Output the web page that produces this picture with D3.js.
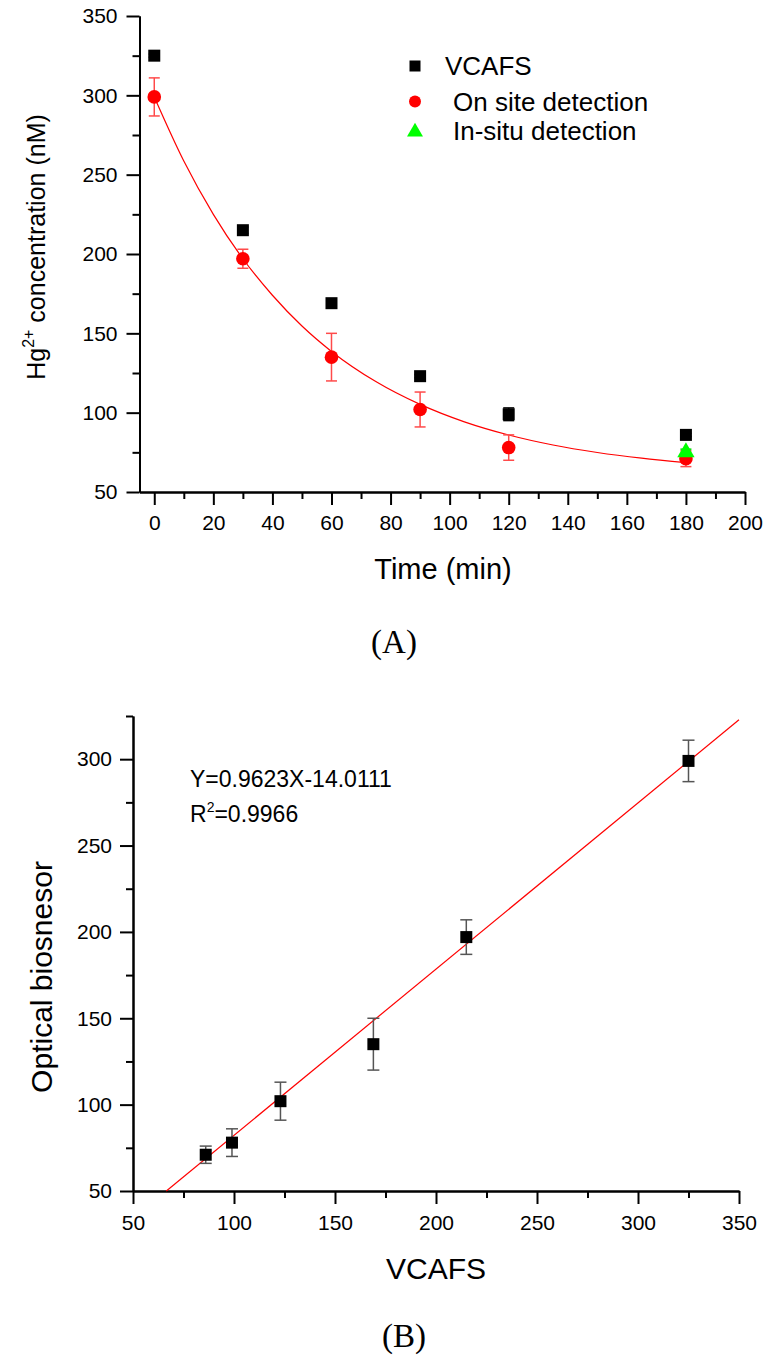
<!DOCTYPE html>
<html>
<head>
<meta charset="utf-8">
<script src="https://cdn.jsdelivr.net/npm/d3@7"></script>
<style>
  body { margin: 0; background: #fff; }
  svg { font-family: "Liberation Sans", Arial, sans-serif; }
  .axis path, .axis line { stroke: #000; stroke-width: 2; }
  .axis text { font-family: "Liberation Sans", Arial, sans-serif; font-size: 21px; fill: #000; }
</style>
</head>
<body>
<div id="chart"></div>
<script>
// ---- data: panel A (time course) ----
var timeMin = [0, 30, 60, 90, 120, 180];
var vcafsConc = [325, 215, 169, 123, 99, 86];
var vcafsErr = [1, 2, 1, 1, 4, 1];
var onSiteConc = [299, 197, 135, 102, 78, 71];
var onSiteErr = [12, 6, 15, 11, 8, 5];
var inSituTime = [180];
var inSituConc = [75];
var inSituErr = [2];
// fitted decay curve
var fitTime = [0, 10, 20, 30, 40, 50, 60, 75, 90, 105, 120, 135, 150, 165, 180];
var fitConc = [299, 258.6, 225, 197, 174, 154.6, 138.6, 119.6, 105.2, 94.2, 85.9, 79.6, 74.9, 71.3, 68.5];
var legendLabels = ["VCAFS", "On site detection", "In-situ detection"];

// ---- data: panel B (correlation) ----
var vcafsX = [86, 99, 123, 169, 215, 325];
var opticalY = [71, 78, 102, 135, 197, 299];
var opticalErr = [5, 8, 11, 15, 10, 12];
var lineX = [66.5, 350];
var lineY = [50, 322.8];

// ticks
var aXMajor = d3.range(0, 201, 20);
var aXMinor = d3.range(10, 200, 20);
var aYMajor = d3.range(50, 351, 50);
var aYMinor = d3.range(75, 350, 50);
var bXMajor = d3.range(50, 351, 50);
var bXMinor = d3.range(75, 350, 50);
var bYMajor = d3.range(50, 301, 50);
var bYMinor = d3.range(75, 326, 50);

var svgWidth = 769;
var svgHeight = 1361;

var svg = d3.select("#chart")
  .append("svg")
  .attr("width", svgWidth)
  .attr("height", svgHeight);

svg.append("rect").attr("width", svgWidth).attr("height", svgHeight).attr("fill", "#fff");

// draw a pair of major/minor axes
function drawAxes(xScale, yScale, xMaj, xMin, yMaj, yMin, xPad, yPad) {
  var y0 = yScale.range()[0];
  var x0 = xScale.range()[0];

  svg.append("g").attr("class", "axis")
    .attr("transform", `translate(0, ${y0})`)
    .call(d3.axisBottom(xScale).tickValues(xMin).tickSize(7).tickSizeOuter(0).tickFormat(""));
  svg.append("g").attr("class", "axis")
    .attr("transform", `translate(0, ${y0})`)
    .call(d3.axisBottom(xScale).tickValues(xMaj).tickSize(13).tickSizeOuter(0).tickPadding(xPad));

  svg.append("g").attr("class", "axis")
    .attr("transform", `translate(${x0}, 0)`)
    .call(d3.axisLeft(yScale).tickValues(yMin).tickSize(7).tickSizeOuter(0).tickFormat(""));
  svg.append("g").attr("class", "axis")
    .attr("transform", `translate(${x0}, 0)`)
    .call(d3.axisLeft(yScale).tickValues(yMaj).tickSize(13).tickSizeOuter(0).tickPadding(yPad));
}

// vertical error bars
function errorBars(xs, ys, errs, xScale, yScale, color, capW) {
  var g = svg.append("g").attr("stroke", color).attr("stroke-width", 1.5);
  xs.forEach(function (xv, i) {
    var cx = xScale(xv);
    var top = yScale(ys[i] + errs[i]);
    var bot = yScale(ys[i] - errs[i]);
    g.append("line").attr("x1", cx).attr("x2", cx).attr("y1", top).attr("y2", bot);
    g.append("line").attr("x1", cx - capW / 2).attr("x2", cx + capW / 2).attr("y1", top).attr("y2", top);
    g.append("line").attr("x1", cx - capW / 2).attr("x2", cx + capW / 2).attr("y1", bot).attr("y2", bot);
  });
}

// ================= Panel A =================
var xA = d3.scaleLinear().domain([-5, 200]).range([139.5, 745]);
var yA = d3.scaleLinear().domain([50, 350]).range([492, 16]);

drawAxes(xA, yA, aXMajor, aXMinor, aYMajor, aYMinor, 10, 9);

// fit curve
var fitLine = d3.line()
  .x((d, i) => xA(fitTime[i]))
  .y(d => yA(d))
  .curve(d3.curveMonotoneX);

svg.append("path")
  .datum(fitConc)
  .attr("d", fitLine)
  .attr("fill", "none")
  .attr("stroke", "#ff0000")
  .attr("stroke-width", 1.2);

errorBars(timeMin, onSiteConc, onSiteErr, xA, yA, "#ff4a4a", 11);
errorBars(timeMin, vcafsConc, vcafsErr, xA, yA, "#000", 11);
errorBars(inSituTime, inSituConc, inSituErr, xA, yA, "#00dd00", 11);

svg.selectAll(".sqA")
  .data(vcafsConc)
  .enter()
  .append("rect")
  .attr("x", (d, i) => xA(timeMin[i]) - 6)
  .attr("y", d => yA(d) - 6)
  .attr("width", 12)
  .attr("height", 12)
  .attr("fill", "#000");

svg.selectAll(".cirA")
  .data(onSiteConc)
  .enter()
  .append("circle")
  .attr("cx", (d, i) => xA(timeMin[i]))
  .attr("cy", d => yA(d))
  .attr("r", 6.8)
  .attr("fill", "#ff0000");

var tri = d3.symbol().type(d3.symbolTriangle).size(130);
svg.selectAll(".triA")
  .data(inSituConc)
  .enter()
  .append("path")
  .attr("d", tri)
  .attr("transform", (d, i) => `translate(${xA(inSituTime[i])}, ${yA(d)})`)
  .attr("fill", "#00ff00");

// legend
var legendY = [66, 101.5, 132];
var legendBase = [75, 110.5, 140];
var legendTextX = [445, 453, 453];
svg.append("rect").attr("x", 409.5).attr("y", legendY[0] - 5.5).attr("width", 11).attr("height", 11).attr("fill", "#000");
svg.append("circle").attr("cx", 415).attr("cy", legendY[1]).attr("r", 6).attr("fill", "#ff0000");
svg.append("path").attr("d", d3.symbol().type(d3.symbolTriangle).size(110))
  .attr("transform", `translate(415, ${legendY[2]})`).attr("fill", "#00ff00");

svg.selectAll(".legText")
  .data(legendLabels)
  .enter()
  .append("text")
  .attr("x", (d, i) => legendTextX[i])
  .attr("y", (d, i) => legendBase[i])
  .attr("font-size", 26)
  .text(d => d);

// axis titles A
svg.append("text")
  .attr("x", 443)
  .attr("y", 579)
  .attr("text-anchor", "middle")
  .attr("font-size", 29)
  .text("Time (min)");

var yTitleA = svg.append("text")
  .attr("transform", "translate(45, 247) rotate(-90)")
  .attr("text-anchor", "middle")
  .attr("font-size", 25);
yTitleA.append("tspan").text("Hg");
yTitleA.append("tspan").attr("font-size", 16).attr("dy", -11).text("2+");
yTitleA.append("tspan").attr("dy", 11).text(" concentration (nM)");

svg.append("text")
  .attr("x", 394)
  .attr("y", 653)
  .attr("text-anchor", "middle")
  .attr("font-family", "'Liberation Serif', 'Times New Roman', serif")
  .attr("font-size", 33)
  .text("(A)");

// ================= Panel B =================
var xB = d3.scaleLinear().domain([50, 350]).range([133, 739]);
var yB = d3.scaleLinear().domain([50, 325]).range([1191, 716]);

drawAxes(xB, yB, bXMajor, bXMinor, bYMajor, bYMinor, 11, 8);

svg.append("line")
  .attr("x1", xB(lineX[0]))
  .attr("y1", yB(lineY[0]))
  .attr("x2", xB(lineX[1]))
  .attr("y2", yB(lineY[1]))
  .attr("stroke", "#ff0000")
  .attr("stroke-width", 1.2);

errorBars(vcafsX, opticalY, opticalErr, xB, yB, "#555", 12);

svg.selectAll(".sqB")
  .data(opticalY)
  .enter()
  .append("rect")
  .attr("x", (d, i) => xB(vcafsX[i]) - 6)
  .attr("y", d => yB(d) - 6)
  .attr("width", 12)
  .attr("height", 12)
  .attr("fill", "#000");

// equation text
svg.append("text")
  .attr("x", 190)
  .attr("y", 787)
  .attr("font-size", 23)
  .text("Y=0.9623X-14.0111");

var r2 = svg.append("text")
  .attr("x", 190)
  .attr("y", 822)
  .attr("font-size", 23);
r2.append("tspan").text("R");
r2.append("tspan").attr("font-size", 14).attr("dy", -10).text("2");
r2.append("tspan").attr("dy", 10).text("=0.9966");

svg.append("text")
  .attr("x", 436)
  .attr("y", 1279)
  .attr("text-anchor", "middle")
  .attr("font-size", 30)
  .text("VCAFS");

svg.append("text")
  .attr("transform", "translate(52, 977) rotate(-90)")
  .attr("text-anchor", "middle")
  .attr("font-size", 30)
  .text("Optical biosnesor");

svg.append("text")
  .attr("x", 404)
  .attr("y", 1347)
  .attr("text-anchor", "middle")
  .attr("font-family", "'Liberation Serif', 'Times New Roman', serif")
  .attr("font-size", 33)
  .text("(B)");
</script>
</body>
</html>
